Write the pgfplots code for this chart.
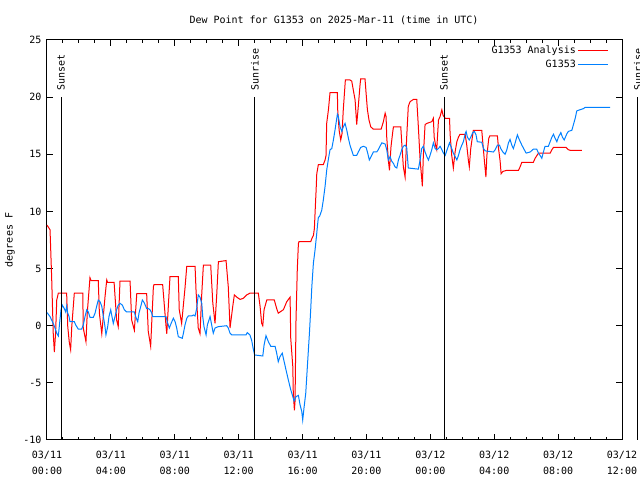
\documentclass[border=0pt]{standalone}
\usepackage{pgfplots}
\pgfplotsset{compat=1.18}
\usepackage{fontspec}
\setmainfont{DejaVu Sans Mono}
\setmonofont{DejaVu Sans Mono}
\newcommand\fs{\fontsize{10bp}{12bp}\selectfont}
\definecolor{gred}{RGB}{255,0,0}
\definecolor{gblue}{RGB}{0,128,255}
\pgfplotstableread{
h v
0 8.8
0.19 8.4
0.29 4.3
0.39 -0.65
0.46 -2.3
0.54 -0.6
0.61 2.25
0.71 2.85
1.23 2.85
1.30 -0.1
1.40 -1.5
1.48 -2.1
1.55 -0.1
1.71 2.85
2.24 2.85
2.27 -0.2
2.44 -1.4
2.52 1.1
2.69 4.2
2.76 3.94
3.21 3.94
3.28 1.1
3.43 -0.7
3.63 2.5
3.74 4.0
3.79 3.8
4.20 3.8
4.36 0.5
4.46 -0.08
4.57 3.9
5.20 3.9
5.30 0.5
5.47 -0.4
5.62 2.8
6.24 2.8
6.34 -0.5
6.49 -1.8
6.66 3.4
6.70 3.6
7.24 3.6
7.45 0.0
7.50 -0.7
7.70 4.3
8.22 4.3
8.28 1.4
8.43 0.2
8.64 3.3
8.75 5.2
9.27 5.2
9.33 3.1
9.47 -0.2
9.58 -0.7
9.69 2.8
9.79 5.3
10.25 5.3
10.38 2.0
10.52 0.2
10.63 2.8
10.73 5.6
11.21 5.7
11.35 3.4
11.46 -0.2
11.63 1.7
11.73 2.7
11.88 2.5
12.09 2.3
12.29 2.4
12.51 2.7
12.71 2.85
13.23 2.85
13.34 1.7
13.44 0.2
13.51 0.0
13.59 1.4
13.76 2.25
14.23 2.25
14.38 1.5
14.48 1.1
14.80 1.4
15.01 2.1
15.22 2.5
15.26 -1.1
15.39 -3.6
15.42 -5.9
15.49 -7.4
15.53 -6.6
15.59 0.5
15.67 4.9
15.74 7.2
15.78 7.35
16.51 7.35
16.59 7.65
16.68 7.9
16.74 8.5
16.80 10.4
16.85 11.9
16.89 13.3
16.99 14.1
17.30 14.1
17.41 14.5
17.47 14.9
17.51 17.7
17.62 18.9
17.72 20.4
18.18 20.4
18.20 18.9
18.29 17.1
18.39 16.25
18.47 16.8
18.55 18.9
18.62 20.3
18.68 21.5
18.97 21.5
19.08 21.4
19.18 20.6
19.29 19.75
19.39 17.6
19.49 19.2
19.60 21.1
19.64 21.6
19.91 21.6
19.98 20.3
20.06 18.9
20.16 18.0
20.27 17.4
20.43 17.2
20.92 17.2
21.06 17.85
21.17 18.6
21.23 18.3
21.27 16.5
21.37 14.5
21.44 13.6
21.54 15.7
21.65 17.0
21.69 17.4
22.15 17.4
22.21 16.0
22.31 13.9
22.42 13.0
22.52 16.5
22.62 19.2
22.73 19.6
22.94 19.8
23.15 19.8
23.25 17.4
23.36 14.5
23.46 12.9
23.50 12.2
23.56 14.8
23.67 17.6
23.78 17.7
23.98 17.8
24.09 17.85
24.19 18.15
24.24 16.5
24.34 15.7
24.40 15.4
24.51 18.0
24.61 18.3
24.72 18.9
24.80 18.4
24.93 18.15
25.20 18.15
25.24 16.7
25.34 14.9
25.44 13.8
25.55 15.2
25.66 16.1
25.76 16.5
25.86 16.75
26.18 16.75
26.28 15.8
26.38 14.5
26.44 13.9
26.53 15.5
26.69 17.1
27.22 17.1
27.28 16.1
27.38 14.5
27.48 13.0
27.54 14.9
27.66 16.4
27.72 16.6
28.20 16.6
28.27 15.5
28.37 14.4
28.43 13.3
28.54 13.5
28.79 13.6
29.52 13.6
29.62 13.9
29.73 14.3
30.45 14.3
30.56 14.65
30.77 15.1
31.50 15.1
31.61 15.4
31.71 15.6
32.50 15.6
32.64 15.4
32.75 15.35
33.48 15.35
}\analysis
\pgfplotstableread{
h v
0 1.15
0.19 0.8
0.39 0.2
0.50 -0.2
0.61 -0.66
0.71 -0.9
0.81 0.5
0.88 1.4
0.96 1.8
1.08 1.5
1.17 1.2
1.23 1.7
1.30 1.1
1.38 0.8
1.44 0.35
1.71 0.35
1.80 0.06
1.96 -0.3
2.17 -0.3
2.27 0.06
2.38 0.8
2.49 1.4
2.59 1.2
2.69 0.74
2.90 0.74
3.01 1.1
3.11 1.7
3.21 2.25
3.32 2.1
3.43 1.7
3.53 0.8
3.63 -0.08
3.69 -0.8
3.80 -0.08
3.88 0.8
3.99 1.4
4.05 0.94
4.15 0.2
4.26 0.8
4.36 1.4
4.46 1.8
4.57 1.96
4.72 1.8
4.84 1.4
4.99 1.2
5.47 1.2
5.55 0.8
5.68 0.35
5.76 1.1
5.89 1.8
5.97 2.25
6.09 2.0
6.24 1.5
6.34 1.5
6.45 1.4
6.56 1.1
6.62 0.8
7.45 0.8
7.53 0.35
7.66 -0.2
7.77 0.2
7.91 0.65
8.02 0.35
8.12 -0.2
8.22 -0.96
8.47 -1.1
8.54 -0.66
8.64 0.06
8.75 0.65
8.85 0.85
9.06 0.85
9.17 0.94
9.27 0.85
9.37 1.5
9.47 2.7
9.58 2.5
9.69 1.96
9.75 0.8
9.83 -0.08
9.96 -0.8
10.04 0.06
10.21 0.8
10.31 0.06
10.41 -0.66
10.52 -0.2
10.73 -0.08
11.25 0.0
11.35 -0.2
11.46 -0.66
11.57 -0.8
12.46 -0.8
12.54 -0.6
12.70 -0.8
12.81 -1.25
12.91 -2.0
13.00 -2.56
13.51 -2.65
13.59 -1.7
13.71 -0.87
13.86 -1.4
14.01 -1.8
14.28 -1.8
14.38 -2.4
14.48 -3.15
14.59 -2.7
14.73 -2.4
14.80 -2.85
14.97 -3.9
15.11 -4.75
15.26 -5.6
15.39 -6.2
15.47 -6.6
15.59 -6.2
15.74 -6.1
15.84 -6.9
15.95 -7.5
16.01 -8.25
16.09 -7.2
16.20 -5.9
16.30 -3.6
16.43 -0.66
16.51 1.4
16.58 3.4
16.68 5.5
16.78 6.6
16.89 8.1
16.93 8.7
16.99 9.5
17.06 9.55
17.20 10.1
17.30 11.0
17.41 12.2
17.51 13.6
17.62 14.6
17.72 15.4
17.83 15.5
17.93 16.25
18.03 17.1
18.18 18.5
18.24 18.3
18.35 17.4
18.46 17.0
18.55 17.4
18.66 17.7
18.77 17.1
18.87 16.4
18.97 15.8
19.18 14.9
19.39 14.9
19.49 15.2
19.64 15.6
19.81 15.7
19.98 15.6
20.08 15.1
20.18 14.5
20.33 14.9
20.43 15.2
20.64 15.2
20.74 15.4
20.85 15.7
20.96 16.0
21.17 15.9
21.27 15.4
21.37 14.5
21.48 14.8
21.58 14.4
21.69 14.2
21.79 13.9
21.90 13.8
22.00 14.5
22.10 14.9
22.21 15.4
22.31 15.7
22.42 15.8
22.52 15.6
22.62 13.8
23.25 13.7
23.36 14.5
23.46 15.5
23.56 15.7
23.67 15.2
23.78 14.8
23.88 14.5
23.98 14.9
24.09 15.4
24.19 16.0
24.30 15.5
24.40 15.4
24.51 15.5
24.61 15.7
24.72 15.4
24.82 15.1
24.93 14.9
25.05 15.4
25.20 16.0
25.34 15.5
25.44 15.1
25.55 14.8
25.66 14.5
25.76 14.9
25.86 15.4
25.97 15.8
26.07 16.1
26.18 16.8
26.24 17.0
26.32 16.5
26.44 16.25
26.53 16.5
26.66 16.9
26.76 17.0
26.86 16.7
26.94 16.1
27.22 16.05
27.33 15.5
27.43 15.3
27.95 15.2
28.06 15.4
28.20 15.8
28.33 15.8
28.41 15.5
28.54 15.2
28.68 15.0
28.79 15.4
28.89 16.0
28.99 16.3
29.10 15.8
29.20 15.5
29.31 16.0
29.45 16.7
29.58 16.25
29.73 15.8
29.88 15.4
30.00 15.1
30.25 15.2
30.45 15.45
30.66 15.45
30.77 15.1
30.87 14.9
30.98 14.65
31.08 15.2
31.18 15.7
31.39 15.7
31.50 16.1
31.61 16.5
31.71 16.75
31.81 16.4
31.92 16.1
32.02 16.5
32.17 16.9
32.27 16.5
32.38 16.25
32.55 16.8
32.64 17.0
32.86 17.1
32.96 17.6
33.07 18.15
33.17 18.8
33.38 18.9
33.59 19.0
33.69 19.1
35.26 19.1
}\station
\begin{document}
\begin{tikzpicture}[x=1bp,y=1bp,font=\fs]
\begin{axis}[
  at={(47bp,40bp)}, anchor=south west,
  scale only axis, width=575bp, height=400bp,
  xmin=0, xmax=36, ymin=-10, ymax=25,
  clip=false,
  axis line style={line width=1bp},
  tick style={black, line width=1bp},
  tick align=inside,
  major tick length=6bp, minor tick length=3bp,
  xtick={0,4,...,36},
  minor xtick={0,1,...,36},
  xticklabels={{03/11\\[4bp]00:00},{03/11\\[4bp]04:00},{03/11\\[4bp]08:00},{03/11\\[4bp]12:00},{03/11\\[4bp]16:00},{03/11\\[4bp]20:00},{03/12\\[4bp]00:00},{03/12\\[4bp]04:00},{03/12\\[4bp]08:00},{03/12\\[4bp]12:00}},
  xticklabel style={align=center, font=\fs, yshift=-8bp},
  ytick={-10,-5,0,5,10,15,20,25},
  yticklabels={-10,-5,0,5,10,15,20,25},
  yticklabel style={font=\fs, xshift=-2bp},
  legend style={at={(rel axis cs:1,1)}, anchor=north east, draw=none, fill=none,
    font=\fs, xshift=-10bp, yshift=-2bp, row sep=1bp},
  legend plot pos=right,
  legend cell align=right,
  legend image code/.code={\draw[#1] (2bp,0bp) -- (32bp,0bp);},
]
\addplot[gred, line width=1bp] table[x=h,y=v] {\analysis};
\addlegendentry{G1353 Analysis}
\addplot[gblue, line width=1bp] table[x=h,y=v] {\station};
\addlegendentry{G1353}
\addplot[black, line width=1bp, forget plot] coordinates {(0.88,-10) (0.88,20)};
\addplot[black, line width=1bp, forget plot] coordinates {(13.02,-10) (13.02,20)};
\addplot[black, line width=1bp, forget plot] coordinates {(24.86,-10) (24.86,20)};
\addplot[black, line width=1bp, forget plot] coordinates {(37.0,-10) (37.0,20)};
\node[rotate=90, anchor=west, inner sep=0pt] at (axis cs:0.88,20.55) {Sunset};
\node[rotate=90, anchor=west, inner sep=0pt] at (axis cs:13.02,20.55) {Sunrise};
\node[rotate=90, anchor=west, inner sep=0pt] at (axis cs:24.86,20.55) {Sunset};
\node[rotate=90, anchor=west, inner sep=0pt] at (axis cs:37.0,20.55) {Sunrise};
\end{axis}
\node at (334bp,460bp) {Dew Point for G1353 on 2025-Mar-11 (time in UTC)};
\node[rotate=90] at (10bp,240bp) {degrees F};
\pgfresetboundingbox
\useasboundingbox (0,0) rectangle (640bp,480bp);
\end{tikzpicture}
\end{document}
